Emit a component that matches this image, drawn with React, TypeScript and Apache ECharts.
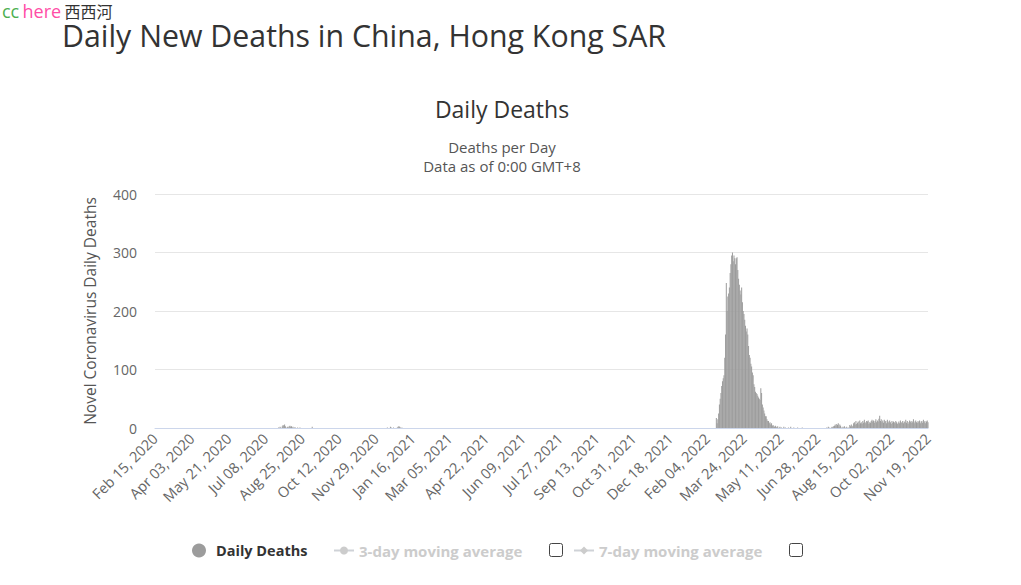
import { useEffect, useRef } from 'react';
import * as echarts from 'echarts';

const START_DATE = '2020-02-15';
const DAY_COUNT = 1009;
const MONTHS = ['Jan', 'Feb', 'Mar', 'Apr', 'May', 'Jun', 'Jul', 'Aug', 'Sep', 'Oct', 'Nov', 'Dec'];

// Nonzero stretches of daily deaths (all other days are 0)
const wave3Start = '2020-07-24';
const wave3Deaths = [0, 1, 0, 2, 1, 0, 3, 5, 4, 6, 3, 1, 0, 2, 1, 3, 4, 2, 3, 1, 2, 0, 1, 1, 0, 0, 1, 0, 0, 1];
const lateSummerStart = '2020-09-07';
const lateSummerDeaths = [2];
const wave4Start = '2020-12-14';
const wave4Deaths = [1, 0, 0, 0, 2, 1, 0, 0, 1, 0, 0, 0, 0, 1, 2, 3, 2, 1, 0, 1];
const wave5Start = '2022-02-16';
const wave5Deaths = [
  17, 8, 15, 25, 40, 50, 60, 72, 80, 85,
  90, 120, 160, 248, 200, 225, 230, 240, 265, 280,
  295, 300, 285, 295, 290, 280, 290, 292, 270, 255,
  245, 235, 228, 240, 215, 200, 195, 185, 175, 165,
  170, 160, 140, 125, 120, 110, 105, 95, 90, 75,
  70, 62, 60, 58, 55, 52, 50, 48, 68, 60,
  40, 35, 30, 25, 20, 20, 15, 12, 12, 8,
  10, 6, 8, 4, 5, 3, 2, 4, 2, 1,
  3, 0, 1, 2,
  0, 1, 0, 0, 2, 0, 1, 0, 0, 0, 1, 0, 0, 2, 0, 0, 0, 1, 0, 0, 0, 0, 1, 0, 0, 0, 0, 0, 1, 0,
];
const wave6Start = '2022-07-09';
const wave6Deaths = [
  0, 1, 0, 2, 1, 0, 0, 1, 2, 1, 3,
  4, 6, 3, 7, 5, 8, 2, 6, 4, 1,
  0, 2, 1, 3, 1, 0, 2, 0, 1, 0,
  5, 3, 6, 2, 4, 8, 10, 6, 12, 7,
  9, 11, 6, 13, 8, 10, 7, 12, 9, 14,
  10, 8, 12, 11, 13, 7, 10, 9, 12, 14,
  11, 13, 9, 12, 15, 10, 13, 11, 16, 21,
  12, 15, 10, 13, 9, 14, 11, 12, 8, 14,
  11, 9, 13, 10, 7, 12, 9, 11, 10, 8,
  12, 10, 7, 9, 11, 8, 13, 10, 9, 12,
  8, 11, 10, 14, 9, 12, 7, 10, 13, 11,
  9, 12, 10, 15, 8, 11, 13, 10, 9, 12,
  10, 13, 8, 11, 12, 9, 14, 10, 12, 8, 11, 13, 10,
];

const segments: [string, number[]][] = [
  [wave3Start, wave3Deaths],
  [lateSummerStart, lateSummerDeaths],
  [wave4Start, wave4Deaths],
  [wave5Start, wave5Deaths],
  [wave6Start, wave6Deaths],
];

const DAY_MS = 86400000;
const toUTC = (s: string) => {
  const [y, m, d] = s.split('-').map(Number);
  return Date.UTC(y, m - 1, d);
};
const startMs = toUTC(START_DATE);

const categories: string[] = [];
for (let i = 0; i < DAY_COUNT; i++) {
  const dt = new Date(startMs + i * DAY_MS);
  const y = dt.getUTCFullYear();
  const m = String(dt.getUTCMonth() + 1).padStart(2, '0');
  const d = String(dt.getUTCDate()).padStart(2, '0');
  categories.push(`${y}-${m}-${d}`);
}

const dailyDeaths: number[] = new Array(DAY_COUNT).fill(0);
segments.forEach(([start, vals]) => {
  const off = Math.round((toUTC(start) - startMs) / DAY_MS);
  vals.forEach((v, k) => {
    if (off + k >= 0 && off + k < DAY_COUNT) dailyDeaths[off + k] = v;
  });
});

const fmtDate = (s: string) => {
  const [y, m, d] = s.split('-');
  return `${MONTHS[Number(m) - 1]} ${d}, ${y}`;
};

const FONT = "'Open Sans', 'Noto Sans', sans-serif";

export default function App() {
  const ref = useRef<HTMLDivElement>(null);
  useEffect(() => {
    if (!ref.current) return;
    const chart = echarts.init(ref.current, undefined, { renderer: 'svg' });
    const legendBase = {
      orient: 'horizontal',
      top: 543,
      padding: 0,
      itemGap: 0,
      inactiveColor: '#cccccc',
      textStyle: { fontFamily: FONT, fontSize: 15, fontWeight: 'bold', color: '#333' },
    };
    chart.setOption({
      animation: false,
      textStyle: { fontFamily: FONT },
      grid: { left: 155, right: 93, top: 194, bottom: 157 },
      xAxis: {
        type: 'category',
        data: categories,
        boundaryGap: false,
        axisLine: { show: true, lineStyle: { color: '#ccd6eb', width: 1 } },
        axisTick: { show: false },
        axisLabel: {
          interval: 47,
          rotate: 45,
          color: '#666',
          fontSize: 14.5,
          fontFamily: FONT,
          margin: 8,
          formatter: (v: string) => fmtDate(v),
        },
        splitLine: { show: false },
      },
      yAxis: {
        type: 'value',
        min: 0,
        max: 400,
        interval: 100,
        name: 'Novel Coronavirus Daily Deaths',
        nameLocation: 'middle',
        nameGap: 57,
        nameTextStyle: { color: '#555', fontSize: 15.5, fontFamily: FONT },
        axisLine: { show: false },
        axisTick: { show: false },
        axisLabel: { color: '#666', fontSize: 14, fontFamily: FONT, margin: 18 },
        splitLine: { lineStyle: { color: '#e6e6e6' } },
      },
      legend: [
        {
          ...legendBase,
          left: 192,
          icon: 'circle',
          itemWidth: 14,
          itemHeight: 14,
          data: ['Daily Deaths'],
          textStyle: { ...legendBase.textStyle, fontSize: 14.5, padding: [0, 0, 0, 5] },
        },
        {
          ...legendBase,
          left: 333,
          itemWidth: 20,
          itemHeight: 10,
          data: ['3-day moving average'],
          selected: { '3-day moving average': false },
        },
        {
          ...legendBase,
          left: 573,
          itemWidth: 20,
          itemHeight: 10,
          data: ['7-day moving average'],
          selected: { '7-day moving average': false },
        },
      ],
      graphic: [
        {
          type: 'text',
          x: 2,
          y: 11,
          style: {
            text: '{g|cc} {p|here} {k|西西河}',
            verticalAlign: 'middle',
            rich: {
              g: { fill: '#4caf50', fontSize: 18, fontFamily: FONT, lineHeight: 18 },
              p: { fill: '#ff4da6', fontSize: 18, fontFamily: FONT, lineHeight: 18 },
              k: { fill: '#333', fontSize: 16, fontFamily: "'Noto Sans CJK SC', sans-serif", lineHeight: 18 },
            },
          },
        },
        {
          type: 'text',
          x: 62,
          y: 35.5,
          style: {
            text: 'Daily New Deaths in China, Hong Kong SAR', fill: '#333', fontSize: 30.3,
            fontFamily: FONT, verticalAlign: 'middle', lineHeight: 28,
          },
        },
        {
          type: 'text',
          x: 502,
          y: 109,
          style: {
            text: 'Daily Deaths', fill: '#333', fontSize: 23, fontFamily: FONT,
            align: 'center', verticalAlign: 'middle',
          },
        },
        {
          type: 'text',
          x: 502,
          y: 146.5,
          style: {
            text: 'Deaths per Day', fill: '#555', fontSize: 15, fontFamily: FONT,
            align: 'center', verticalAlign: 'middle', lineHeight: 17,
          },
        },
        {
          type: 'text',
          x: 502,
          y: 165.5,
          style: {
            text: 'Data as of 0:00 GMT+8', fill: '#555', fontSize: 15, fontFamily: FONT,
            align: 'center', verticalAlign: 'middle', lineHeight: 17,
          },
        },
        {
          type: 'rect',
          shape: { x: 549.5, y: 543.5, width: 13, height: 13, r: 2 },
          style: { fill: '#fff', stroke: '#444', lineWidth: 1 },
        },
        {
          type: 'rect',
          shape: { x: 789.5, y: 543.5, width: 13, height: 13, r: 2 },
          style: { fill: '#fff', stroke: '#444', lineWidth: 1 },
        },
      ],
      series: [
        {
          name: 'Daily Deaths',
          type: 'bar',
          data: dailyDeaths,
          barCategoryGap: '10%',
          itemStyle: { color: '#9c9c9c' },
          emphasis: { disabled: true },
        },
        {
          name: '3-day moving average',
          type: 'line',
          data: [],
          symbol: 'circle',
          symbolSize: 8,
          itemStyle: { color: '#cccccc' },
          lineStyle: { color: '#cccccc', width: 2 },
        },
        {
          name: '7-day moving average',
          type: 'line',
          data: [],
          symbol: 'diamond',
          symbolSize: 9,
          itemStyle: { color: '#cccccc' },
          lineStyle: { color: '#cccccc', width: 2 },
        },
      ],
    });
    return () => chart.dispose();
  }, []);
  return (
    <div
      ref={ref}
      style={{ position: 'fixed', left: 0, top: 0, width: 1021, height: 585, background: '#fff' }}
    />
  );
}
